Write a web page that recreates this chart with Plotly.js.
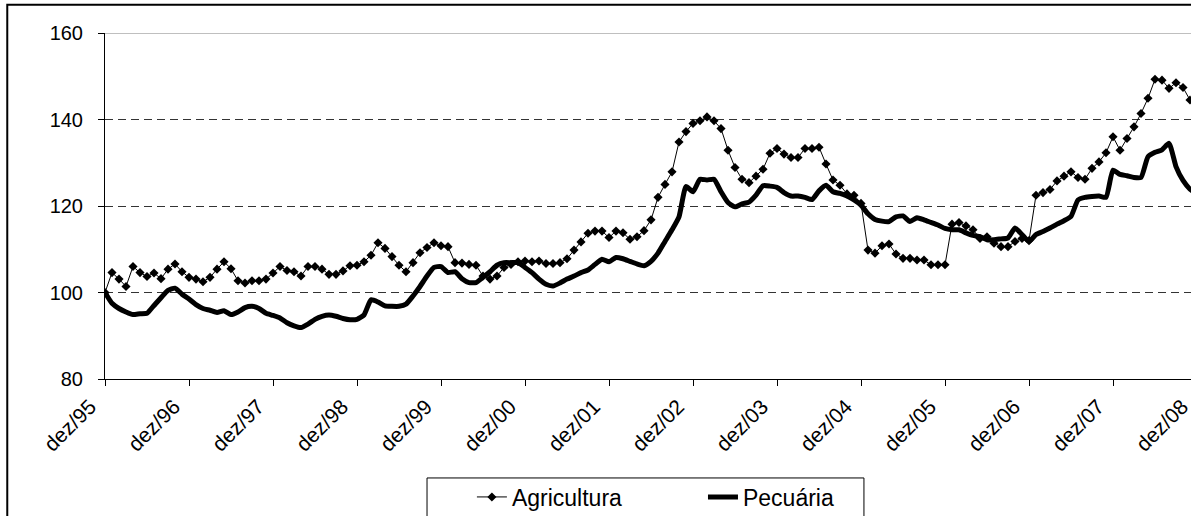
<!DOCTYPE html>
<html>
<head>
<meta charset="utf-8">
<script src="https://cdn.plot.ly/plotly-3.0.1.min.js"></script>
<style>
html,body{margin:0;padding:0;background:#fff;overflow:hidden;width:1191px;height:516px;}
#chart{width:1200px;height:540px;}
</style>
</head>
<body>
<div id="chart"></div>
<script>
// Monthly index, dez/95 = 100 (157 months: dez/95 .. dez/08)
const tickLabels = ["dez/95","dez/96","dez/97","dez/98","dez/99","dez/00","dez/01","dez/02","dez/03","dez/04","dez/05","dez/06","dez/07","dez/08"];

const agricultura = [
100.0,104.6,103.1,101.4,106.0,104.6,103.7,104.5,103.2,105.4,106.6,104.8,
103.5,103.1,102.5,103.5,105.4,107.1,105.5,102.7,102.2,102.7,102.7,103.1,
104.5,106.0,105.1,104.8,103.8,106.0,106.0,105.4,104.2,104.2,105.0,106.2,
106.3,107.1,108.6,111.5,110.2,108.3,106.3,104.8,106.9,109.2,110.4,111.5,
110.8,110.6,106.9,106.8,106.5,106.3,103.8,103.1,103.8,105.8,106.5,107.1,
107.3,107.1,107.3,106.7,106.7,106.9,107.8,109.8,111.7,113.7,114.2,114.2,
112.7,114.2,113.8,112.3,112.9,114.3,116.8,122.0,125.0,127.9,134.8,137.2,
139.1,139.7,140.6,139.7,137.9,132.9,128.9,126.2,125.4,126.9,128.5,132.2,
133.3,132.0,131.2,131.2,133.3,133.3,133.6,129.7,126.0,124.8,122.8,122.5,
120.6,109.8,109.1,110.8,111.2,108.9,107.9,107.9,107.5,107.5,106.4,106.4,
106.4,115.8,116.2,115.4,114.5,112.5,112.9,111.4,110.6,110.6,111.8,112.5,
112.0,122.5,123.1,123.8,125.8,126.9,127.9,126.6,126.2,128.7,130.2,132.3,
136.0,132.9,135.6,138.3,141.4,144.9,149.3,149.1,147.2,148.5,147.4,144.5,
142.0];

const pecuaria = [
100.0,97.5,96.3,95.5,94.9,95.1,95.2,97.0,98.8,100.5,101.0,99.6,
98.5,97.2,96.3,95.9,95.4,95.8,94.9,95.5,96.5,96.8,96.3,95.2,
94.7,94.1,93.0,92.3,91.9,92.7,93.8,94.5,94.8,94.5,94.0,93.7,
93.8,94.8,98.3,97.8,96.9,96.8,96.8,97.3,99.2,101.4,103.8,105.8,
106.0,104.6,104.8,103.2,102.3,102.3,103.5,104.8,106.3,106.9,106.9,106.9,
105.8,104.6,103.1,101.9,101.5,102.2,103.1,103.8,104.6,105.2,106.5,107.7,
107.1,108.1,107.8,107.2,106.6,106.2,107.2,109.1,111.8,114.5,117.5,124.5,
123.3,126.2,126.0,126.2,123.3,120.8,119.8,120.5,120.9,122.5,124.7,124.6,
124.3,123.1,122.3,122.3,122.0,121.5,123.5,124.8,123.3,122.9,122.3,121.4,
120.2,118.2,116.9,116.5,116.4,117.5,117.7,116.4,117.3,116.8,116.2,115.6,
114.8,114.5,114.5,113.8,113.2,112.9,112.2,112.2,112.4,112.6,114.9,113.4,
111.8,113.4,114.1,114.9,115.8,116.6,117.6,121.4,122.0,122.2,122.3,122.0,
128.3,127.3,127.0,126.6,126.6,131.4,132.4,133.0,134.5,129.1,125.9,123.9,
122.8];

const monthIndex = agricultura.map((_, i) => i);
const tickPositions = tickLabels.map((_, k) => k * 12);
const yTicks = [80, 100, 120, 140, 160];

const font = 'Liberation Sans, Arial, sans-serif';

const traces = [
  {
    x: monthIndex, y: pecuaria, name: 'Pecuária', type: 'scatter', mode: 'lines',
    line: {color: '#000', width: 5, shape: 'spline', smoothing: 0.5},
    legend: 'legend2'
  },
  {
    x: monthIndex, y: agricultura, name: 'Agricultura', type: 'scatter', mode: 'lines+markers',
    line: {color: '#000', width: 1},
    marker: {symbol: 'diamond', size: 7, color: '#000'},
    legend: 'legend'
  }
];

const layout = {
  width: 1200, height: 540,
  margin: {l: 105, r: 3, t: 33, b: 161},
  paper_bgcolor: '#fff', plot_bgcolor: '#fff',
  font: {family: font, color: '#000'},
  showlegend: true,
  xaxis: {
    type: 'linear', range: [0, 156],
    tickmode: 'array', tickvals: tickPositions, ticktext: tickLabels,
    tickangle: -45, tickfont: {size: 21, family: font, color: '#000'},
    ticklabeloverflow: 'allow', ticklabelshift: -15, ticklabelstandoff: 0,
    ticks: 'outside', ticklen: 6, tickcolor: '#000', tickwidth: 1,
    showline: true, linecolor: '#000', linewidth: 1,
    showgrid: false, zeroline: false
  },
  yaxis: {
    range: [80, 160], tickmode: 'array', tickvals: yTicks,
    tickfont: {size: 20, family: font, color: '#000'},
    ticks: 'outside', ticklen: 6, tickcolor: '#000', tickwidth: 1,
    ticklabelstandoff: 11,
    showline: true, linecolor: '#000', linewidth: 1,
    showgrid: true, gridcolor: '#333', gridwidth: 1, griddash: '8px,5px',
    zeroline: false
  },
  legend: {
    orientation: 'h', x: 0.336, xanchor: 'left', y: -0.341, yanchor: 'middle',
    font: {size: 23, family: font, color: '#000'}, bgcolor: 'rgba(0,0,0,0)', borderwidth: 0
  },
  legend2: {
    orientation: 'h', x: 0.5476, xanchor: 'left', y: -0.341, yanchor: 'middle',
    font: {size: 23, family: font, color: '#000'}, bgcolor: 'rgba(0,0,0,0)', borderwidth: 0
  },
  shapes: [
    {type: 'line', xref: 'paper', yref: 'y', x0: 0, x1: 1, y0: 160, y1: 160,
     line: {color: '#808080', width: 1}, layer: 'above'},
    {type: 'rect', xref: 'paper', yref: 'paper', x0: 0.2949, x1: 0.695, y0: -0.286, y1: -0.5,
     line: {color: '#000', width: 1}, fillcolor: 'rgba(0,0,0,0)'},
    {type: 'rect', xref: 'paper', yref: 'paper', x0: -0.0895, x1: 1.05, y0: 1.0818, y1: -0.6,
     line: {color: '#000', width: 2}, fillcolor: 'rgba(0,0,0,0)'}
  ]
};

Plotly.newPlot('chart', traces, layout, {displayModeBar: false, staticPlot: true});
</script>
</body>
</html>
